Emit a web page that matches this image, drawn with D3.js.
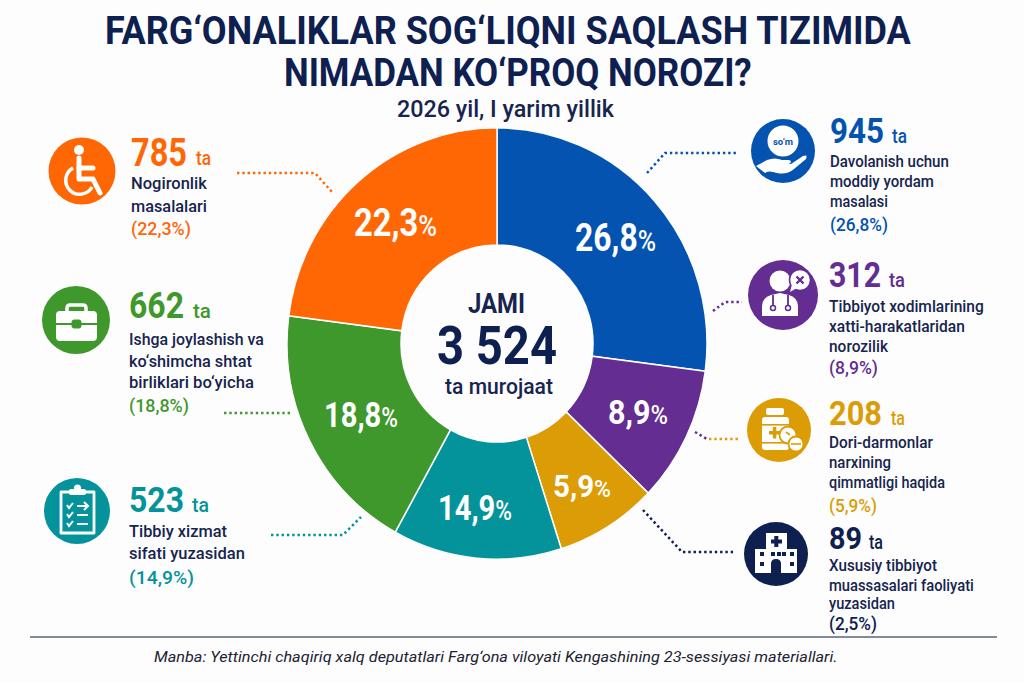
<!DOCTYPE html>
<html><head><meta charset="utf-8">
<script src="https://cdn.jsdelivr.net/npm/d3@7"></script>
<style>html,body{margin:0;padding:0;background:#fdfdfd}svg{display:block}text{font-family:Roboto,sans-serif}</style>
</head><body><div id="c"></div>
<script>
// ---- data ----
const titleLines = ["FARG‘ONALIKLAR SOG‘LIQNI SAQLASH TIZIMIDA", "NIMADAN KO‘PROQ NOROZI?"];
const subtitle = "2026 yil, I yarim yillik";
const source = "Manba: Yettinchi chaqiriq xalq deputatlari Farg‘ona viloyati Kengashining 23-sessiyasi materiallari.";
const totalLines = ["JAMI", "3 524", "ta murojaat"];
const categories = ["blue", "purple", "gold", "teal", "green", "orange", "navy"];
const counts = ["945", "312", "208", "523", "662", "785", "89"];
const shares = ["26,8", "8,9", "5,9", "14,9", "18,8", "22,3", "2,5"];
const descriptions = [
  ["Davolanish uchun", "moddiy yordam", "masalasi"],
  ["Tibbiyot xodimlarining", "xatti-harakatlaridan", "norozilik"],
  ["Dori-darmonlar", "narxining", "qimmatligi haqida"],
  ["Tibbiy xizmat", "sifati yuzasidan"],
  ["Ishga joylashish va", "ko‘shimcha shtat", "birliklari bo‘yicha"],
  ["Nogironlik", "masalalari"],
  ["Xususiy tibbiyot", "muassasalari faoliyati", "yuzasidan"]
];
// Slice sweep (% of the full ring).
// The reference ring is not proportional to its printed labels, and has no 2,5% slice.
const ringSlices = ["blue", "purple", "gold", "teal", "green", "orange"];
const ringSweep = [27.05, 10.15, 7.85, 13.0, 19.0, 22.95];

// ---- styles & layout ----
const palette = {blue:"#0553B1", purple:"#632D91", gold:"#DB9C05", teal:"#05939B", green:"#3F982B", orange:"#FF6705", navy:"#0E2050"};
const ink = "#16244F";
const W = 1024, H = 683;
const svg = d3.select("#c").append("svg").attr("width", W).attr("height", H);
svg.append("rect").attr("width", W).attr("height", H).attr("fill", "#fdfdfd");

// place text so that it spans exactly x0..x1 (the reference face is condensed)
function fit(parent, str, x0, x1, base, size, weight, fill, style) {
  const t = parent.append("text").attr("font-size", size).attr("font-weight", weight)
    .attr("fill", fill).attr("font-style", style || null).text(str);
  const w = t.node().getComputedTextLength();
  t.attr("transform", `translate(${x0},${base}) scale(${(x1 - x0) / w},1)`);
  return t;
}

fit(svg, titleLines[0], 105, 911, 43.5, 39, 700, "#0E2050");
fit(svg, titleLines[1], 284, 752, 86, 39, 700, "#0E2050");
fit(svg, subtitle, 397, 614, 117, 23, 500, ink);

// ---- ring ----
const cx = 497, cy = 343.5;
const ring = svg.append("g").attr("transform", `translate(${cx},${cy}) scale(1,1.027)`);
const pie = d3.pie().sort(null).value(d => d)(ringSweep);
const arc = d3.arc().innerRadius(96).outerRadius(210);
ring.selectAll("path").data(pie).join("path")
  .attr("d", arc)
  .attr("fill", (d, i) => palette[ringSlices[i]])
  .attr("stroke", "#fdfdfd").attr("stroke-width", 1.5);

const ringLabelBox = {
  blue:[575,656,251,38], purple:[608,668,424,33], gold:[553,611,497,31],
  teal:[438,512,520,35], green:[324,398,427,35], orange:[354,437,236,39]
};
ringSlices.forEach(k => {
  const [x0, x1, b, s] = ringLabelBox[k];
  const t = fit(svg, shares[categories.indexOf(k)], x0, x1, b, s, 700, "#fff");
  t.append("tspan").attr("font-size", s * 0.78).attr("font-weight", 500).text("%");
  const w = t.node().getComputedTextLength();
  t.attr("transform", `translate(${x0},${b}) scale(${(x1 - x0) / w},1)`);
});

fit(svg, totalLines[0], 468, 525, 313, 28, 700, ink);
fit(svg, totalLines[1], 437, 557, 364, 54, 700, "#0E2050");
fit(svg, totalLines[2], 445, 553, 394, 22, 500, ink);

// ---- legend blocks ----
const block = {
  blue:  {x:830, num:[884,143,35], ta:[892,907,143], lines:[[949,167],[934,187],[888,207]], pct:[888,231]},
  purple:{x:829, num:[881,287,36], ta:[889,905,287], lines:[[984,312],[965,332],[888,352]], pct:[878,374]},
  gold:  {x:829, num:[882,425,33], ta:[891,905,425], lines:[[933,448],[891,468],[945,488]], pct:[877,512]},
  teal:  {x:129, num:[184,512,36], ta:[192,209,512], lines:[[227,537],[245,559]], pct:[194,584]},
  green: {x:129, num:[184,318,37], ta:[193,211,318], lines:[[264,345],[252,367],[254,388]], pct:[189,412]},
  orange:{x:131, num:[187,166,38], ta:[196,211,165], lines:[[207,189],[207,212]], pct:[191,235]},
  navy:  {x:829, num:[862,549,32], ta:[869,883,549], lines:[[937,571],[974,591],[895,609]], pct:[877,630]}
};
categories.forEach((k, i) => {
  const b = block[k], col = palette[k];
  fit(svg, counts[i], b.x, b.num[0], b.num[1], b.num[2], 700, col);
  fit(svg, "ta", b.ta[0], b.ta[1], b.ta[2], 20, 500, col);
  descriptions[i].forEach((ln, j) => fit(svg, ln, b.x, b.lines[j][0], b.lines[j][1], 16.5, 500, ink));
  fit(svg, `(${shares[i]}%)`, b.x, b.pct[0], b.pct[1], 19, 500, col);
});

// ---- dotted leaders ----
const leaders = [
  ["orange", [[237,173],[315,173],[332,192]]],
  ["green",  [[224,413],[291,413]]],
  ["teal",   [[271,535],[343,535],[361,517]]],
  ["blue",   [[647,173],[665,153],[737,153]]],
  ["purple", [[713,311],[725,302],[742,302]]],
  ["purple", [[695,432],[707,439]]],
  ["gold",   [[709,439],[738,439]]],
  ["navy",   [[643,510],[682,552],[733,552]]]
];
const line = d3.line();
leaders.forEach(([k, pts]) => svg.append("path").attr("d", line(pts)).attr("fill", "none")
  .attr("stroke", palette[k]).attr("stroke-width", 2.5).attr("stroke-dasharray", "2.4 2.9"));

// ---- icons ----
const iconAt = {blue:[783,151,32], purple:[783,295,35], gold:[779,430,32], teal:[77,511,33], green:[76,320,34], orange:[82,171,33.5], navy:[776,554,32]};
const icons = {};
categories.forEach(k => {
  const [x, y, r] = iconAt[k];
  const g = svg.append("g").attr("transform", `translate(${x},${y})`);
  g.append("circle").attr("r", r).attr("fill", palette[k]);
  icons[k] = g;
});
const W_ = "#fff";
function P(g, d, o) { const p = g.append("path").attr("d", d).attr("fill", "none").attr("stroke", W_).attr("stroke-width", 3);
  Object.entries(o || {}).forEach(([a, v]) => p.attr(a, v)); return p; }
function R(g, x, y, w, h, rx, fill) { return g.append("rect").attr("x", x).attr("y", y).attr("width", w).attr("height", h).attr("rx", rx || 0).attr("fill", fill || W_); }
function C(g, x, y, r, fill) { return g.append("circle").attr("cx", x).attr("cy", y).attr("r", r).attr("fill", fill || W_); }

// wheelchair
{ const g = icons.orange;
  C(g, -3, -21, 5);
  P(g, "M-3,-13V8H11L18,22", {"stroke-width":5, "stroke-linejoin":"round", "stroke-linecap":"round"});
  P(g, "M-3,-3H11", {"stroke-width":5, "stroke-linecap":"round"});
  P(g, "M-9,-3A14,14 0 1 0 10,16", {"stroke-width":3.5}); }
// briefcase
{ const g = icons.green, c = palette.green;
  P(g, "M-9,-9V-12Q-9,-15 -6,-15H7Q10,-15 10,-12V-9", {"stroke-width":3.5});
  g.append("path").attr("fill", W_).attr("d", "M-16,-9H17Q21,-9 21,-5V3H-20V-5Q-20,-9 -16,-9Z");
  g.append("path").attr("fill", W_).attr("d", "M-20,5H21V17Q21,21 17,21H-16Q-20,21 -20,17Z");
  R(g, -4, 0, 9, 8, 2, c).attr("stroke", c).attr("stroke-width", 1); }
// clipboard
{ const g = icons.teal;
  P(g, "M-16,-19H17V22H-16Z", {"stroke-width":2.8, "stroke-linejoin":"round"});
  R(g, -8, -22, 17, 6, 2); C(g, 0.5, -23, 3.5);
  [-6, 3, 12].forEach((dy, i) => {
    P(g, `M-10,${dy}l2,3l4,-5`, {"stroke-width":2});
    P(g, i ? `M0,${dy + 1}H11` : `M0,${dy + 1}H11M7,${dy - 3}L11,${dy + 1}L7,${dy + 5}`, {"stroke-width":2});
  }); }
// hand with coin
{ const g = icons.blue, c = palette.blue;
  C(g, 0, -10, 15.5);
  g.append("text").attr("text-anchor", "middle").attr("x", 0).attr("y", -6.5).attr("font-size", 9.5).attr("font-weight", 700).attr("fill", c).text("so‘m");
  g.append("path").attr("fill", W_).attr("d", "M-27,15L-16,9Q-8,6 -1,9H6Q10,10 6,13H-6H8L20,5Q25,3 23,8L11,18Q4,24 -6,22Q-15,19 -18,22Z"); }
// doctor
{ const g = icons.purple, c = palette.purple;
  C(g, -3, -14, 10.5);
  g.append("path").attr("fill", W_).attr("d", "M-21,21V11Q-21,3 -12,0L-3,-2L6,0Q15,3 15,11V21Z");
  P(g, "M-10,0V10M5,0V10", {stroke:c, "stroke-width":1.8});
  g.append("circle").attr("cx", -10).attr("cy", 13).attr("r", 2.5).attr("fill", "none").attr("stroke", c).attr("stroke-width", 1.5);
  g.append("circle").attr("cx", 5).attr("cy", 13).attr("r", 2.5).attr("fill", "none").attr("stroke", c).attr("stroke-width", 1.5);
  g.append("circle").attr("cx", 17).attr("cy", -15).attr("r", 10.5).attr("fill", W_).attr("stroke", c).attr("stroke-width", 1.5);
  g.append("path").attr("fill", W_).attr("d", "M9,-11L7,-3L14,-7Z");
  P(g, "M13.5,-18.5L20.5,-11.5M20.5,-18.5L13.5,-11.5", {stroke:c, "stroke-width":2.4}); }
// medicine bottle
{ const g = icons.gold, c = palette.gold;
  R(g, -13, -22, 18, 7, 2);
  R(g, -17, -13, 27, 33, 3);
  R(g, -17, -6, 27, 1.6, 0, c); R(g, -17, 12, 27, 1.6, 0, c);
  R(g, -10, 1, 11, 3.5, 0, c); R(g, -6.2, -3, 3.5, 11.5, 0, c);
  [[9, 5, 8.5], [17, 14, 7.5]].forEach(([x, y, r]) => g.append("circle").attr("cx", x).attr("cy", y).attr("r", r).attr("fill", W_).attr("stroke", c).attr("stroke-width", 1.8));
  P(g, "M12,14H22", {stroke:c, "stroke-width":1.6}); P(g, "M7,2L11,5", {stroke:c, "stroke-width":1.6}); }
// hospital
{ const g = icons.navy, c = palette.navy;
  R(g, -10, -21, 21, 40); R(g, -21, -5, 42, 24);
  R(g, -1.7, -18, 4, 11, 0, c); R(g, -5, -14.5, 11, 4, 0, c);
  [[-16,-2],[-16,8],[-5,-2],[1,-2],[6,-2],[14,-2],[14,8]].forEach(([x, y]) => R(g, x, y, 4, 4, 0, c));
  g.append("path").attr("fill", c).attr("d", "M-5,19V10Q-5,5 0,5Q5,5 5,10V19Z"); }

// ---- footer ----
svg.append("line").attr("x1", 30).attr("x2", 997).attr("y1", 637).attr("y2", 637).attr("stroke", "#5a6478").attr("stroke-width", 1.6);
fit(svg, source, 154, 838, 662, 14, 400, "#1c2233", "italic");
</script></body></html>
